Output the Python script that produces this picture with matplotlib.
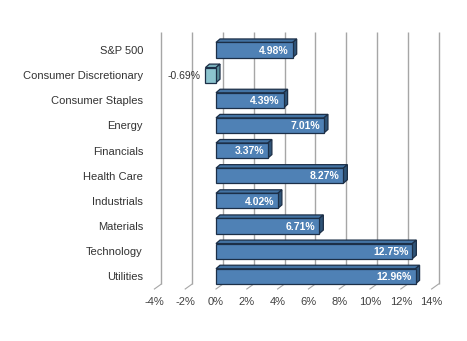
import numpy as np
import matplotlib.pyplot as plt
from matplotlib.patches import Polygon

plt.rcParams['font.family'] = ['Liberation Sans', 'DejaVu Sans']

categories = ["S&P 500", "Consumer Discretionary", "Consumer Staples", "Energy",
              "Financials", "Health Care", "Industrials", "Materials",
              "Technology", "Utilities"]
returns = [4.98, -0.69, 4.39, 7.01, 3.37, 8.27, 4.02, 6.71, 12.75, 12.96]
tick_values = [-4, -2, 0, 2, 4, 6, 8, 10, 12, 14]

# pixel mapping: x px = 216 + 15.4 * value, y px = 50 + 25.14 * row
W, H = 467, 341
fig = plt.figure(figsize=(W / 100, H / 100), dpi=100)
ax = fig.add_axes([0, 0, 1, 1])
ax.set_xlim((0 - 216) / 15.4, (W - 216) / 15.4)
ax.set_ylim((H - 50) / 25.14, (0 - 50) / 25.14)
ax.axis("off")

# 3D offsets (data units)
bar_dx, bar_dy = 4 / 15.4, -3.5 / 25.14
wall_dx, wall_dy = 7 / 15.4, -5 / 25.14
bar_h = 0.6
grid_top = (32 - 50) / 25.14
grid_bot = (284 - 50) / 25.14

# back-wall gridlines and floor diagonals
for v in tick_values:
    ax.plot([v + wall_dx, v + wall_dx], [grid_top, grid_bot],
            color="#a6a6a6", lw=1, zorder=1, solid_capstyle="butt")
    ax.plot([v + wall_dx, v], [grid_bot, grid_bot - wall_dy],
            color="#a6a6a6", lw=0.8, zorder=1)
    ax.text(v, 10.02, f"{v}%", ha="center", va="center", fontsize=8,
            color="#404040")

edge = "#1c2f47"
for i, (name, val) in enumerate(zip(categories, returns)):
    if val >= 0:
        front, top_c, side_c = "#4f81b5", "#4373a3", "#2f5478"
    else:
        front, top_c, side_c = "#8cc4cf", "#78afbb", "#5a8f9b"
    x0, x1 = min(0, val), max(0, val)
    yt, yb = i - bar_h / 2, i + bar_h / 2
    top = Polygon([(x0, yt), (x1, yt), (x1 + bar_dx, yt + bar_dy),
                   (x0 + bar_dx, yt + bar_dy)], closed=True,
                  facecolor=top_c, edgecolor=edge, lw=0.9, zorder=3)
    side = Polygon([(x1, yt), (x1, yb), (x1 + bar_dx, yb + bar_dy),
                    (x1 + bar_dx, yt + bar_dy)], closed=True,
                   facecolor=side_c, edgecolor=edge, lw=0.9, zorder=3)
    face = Polygon([(x0, yt), (x1, yt), (x1, yb), (x0, yb)], closed=True,
                   facecolor=front, edgecolor=edge, lw=0.9, zorder=4)
    for p in (top, side, face):
        ax.add_patch(p)

    if val >= 0:
        ax.text(val - 0.26, i + 0.03, f"{val:.2f}%", ha="right", va="center",
                fontsize=7.5, fontweight="bold", color="white", zorder=5)
    else:
        ax.text(val - 0.3, i + 0.03, f"{val:.2f}%", ha="right", va="center",
                fontsize=7.5, color="#333333", zorder=5)

    ax.text((143 - 216) / 15.4, i + 0.04, name, ha="right", va="center",
            fontsize=8, color="#333333")

fig.savefig("out.png", dpi=100)
